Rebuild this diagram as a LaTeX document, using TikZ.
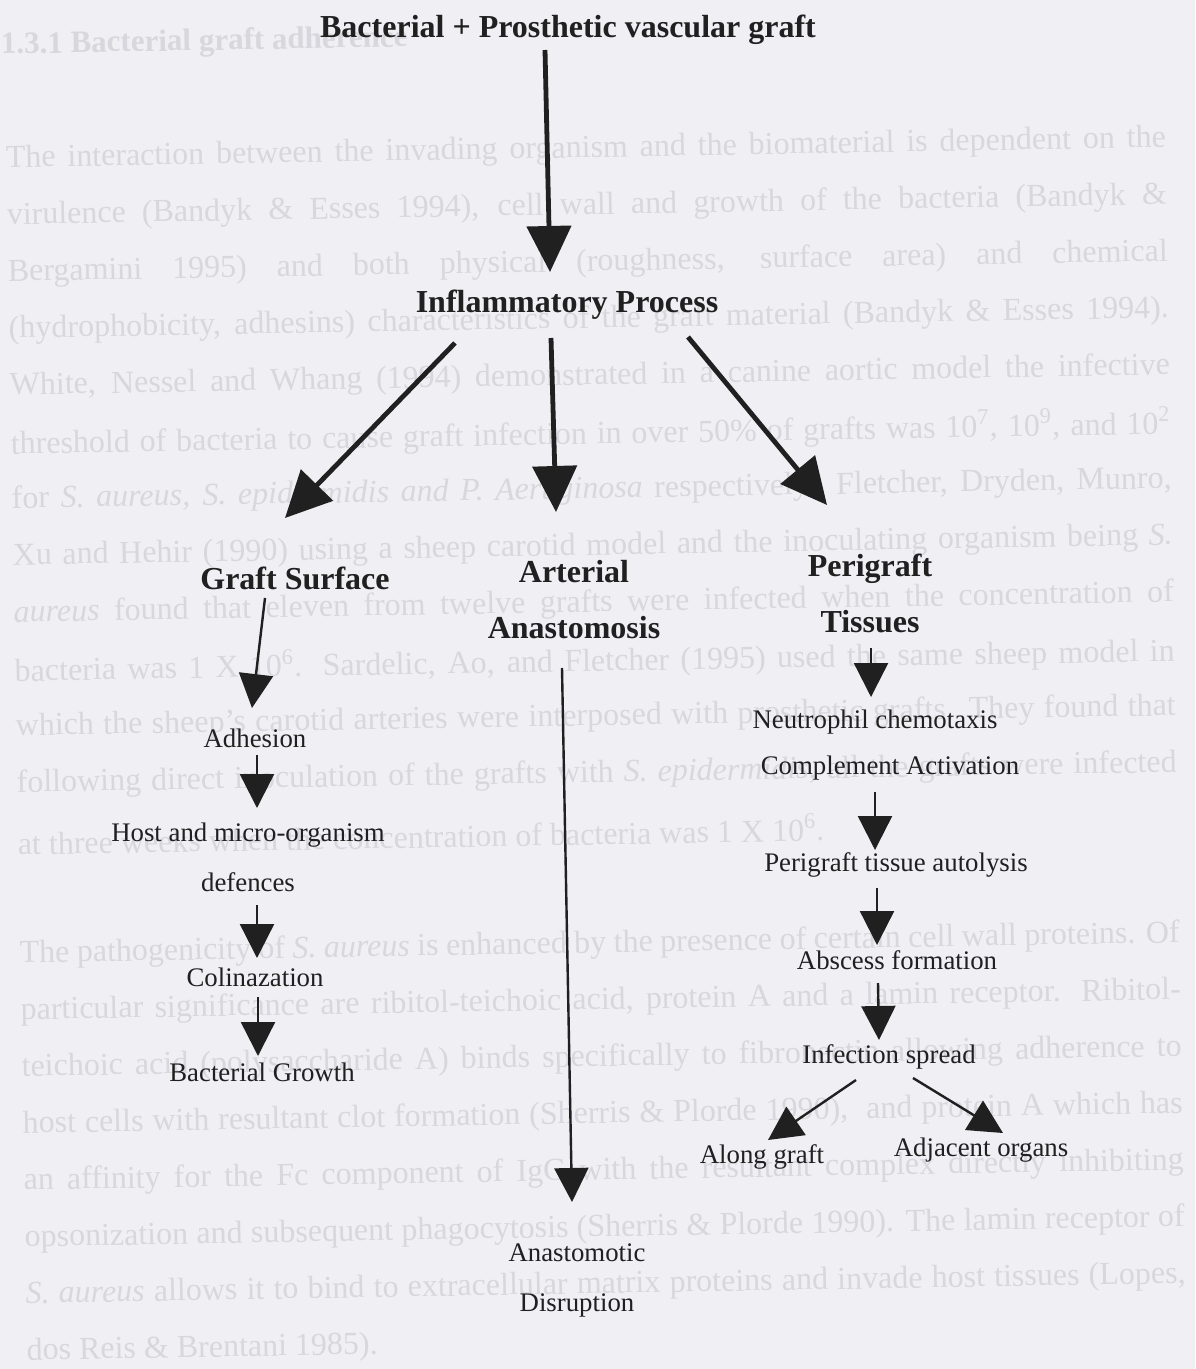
\documentclass[tikz,border=0pt]{standalone}
\usepackage{fontspec}
\setmainfont{Liberation Serif}
\usepackage{tikz}
\usetikzlibrary{arrows.meta, calc}
\definecolor{paper}{RGB}{239,239,244}
\definecolor{ghost}{RGB}{215,215,221}
\definecolor{ink}{RGB}{32,32,32}
\tikzstyle{bigarrow} = [line width=2.4pt, draw=ink, -{Triangle[length=23pt,width=22pt]}]
\tikzstyle{arrow} = [line width=1.2pt, draw=ink, -{Triangle[length=17pt,width=17pt]}]
\tikzstyle{title} = [font=\fontsize{16}{28}\selectfont\bfseries, text=ink, align=center, inner sep=0pt]
\tikzstyle{stage} = [font=\fontsize{13.4}{25}\selectfont, text=ink, align=center, inner sep=0pt]
\tikzstyle{ghostline} = [font=\fontsize{16}{19}\selectfont, text=ghost, anchor=west, inner sep=0pt]

\begin{document}
\begin{tikzpicture}[x=0.5pt,y=-0.5pt]
\fill [paper] (0,0) rectangle (1195,1369);

\begin{scope}[rotate around={1:(600,700)}, transform shape]
\node [ghostline, font=\fontsize{15.5}{18}\selectfont\bfseries] (bg0) at (12,36) {1.3.1 Bacterial graft adherence};
\node [ghostline] (bg2) at (15,149.6) {\makebox[580pt][s]{The interaction between the invading organism and the biomaterial is dependent on the}};
\node [ghostline] (bg3) at (15,206.4) {\makebox[580pt][s]{virulence (Bandyk \& Esses 1994), cell wall and growth of the bacteria (Bandyk \&}};
\node [ghostline] (bg4) at (15,263.2) {\makebox[580pt][s]{Bergamini 1995) and both physical (roughness, surface area) and chemical}};
\node [ghostline] (bg5) at (15,320) {\makebox[580pt][s]{(hydrophobicity, adhesins) characteristics of the graft material (Bandyk \& Esses 1994).}};
\node [ghostline] (bg6) at (15,376.8) {\makebox[580pt][s]{White, Nessel and Whang (1994) demonstrated in a canine aortic model the infective}};
\node [ghostline] (bg7) at (15,433.6) {\makebox[580pt][s]{threshold of bacteria to cause graft infection in over 50\% of grafts was 10\textsuperscript{7}, 10\textsuperscript{9}, and 10\textsuperscript{2}}};
\node [ghostline] (bg8) at (15,490.4) {\makebox[580pt][s]{for \textit{S. aureus, S. epidermidis and P. Aeruginosa} respectively. Fletcher, Dryden, Munro,}};
\node [ghostline] (bg9) at (15,547.2) {\makebox[580pt][s]{Xu and Hehir (1990) using a sheep carotid model and the inoculating organism being \textit{S.}}};
\node [ghostline] (bg10) at (15,604) {\makebox[580pt][s]{\textit{aureus} found that eleven from twelve grafts were infected when the concentration of}};
\node [ghostline] (bg11) at (15,660.8) {\makebox[580pt][s]{bacteria was 1 X 10\textsuperscript{6}. Sardelic, Ao, and Fletcher (1995) used the same sheep model in}};
\node [ghostline] (bg12) at (15,717.6) {\makebox[580pt][s]{which the sheep's carotid arteries were interposed with prosthetic grafts. They found that}};
\node [ghostline] (bg13) at (15,774.4) {\makebox[580pt][s]{following direct inoculation of the grafts with \textit{S. epidermidis}, all the grafts were infected}};
\node [ghostline] (bg14) at (15,831.2) {at three weeks when the concentration of bacteria was 1 X 10\textsuperscript{6}.};
\node [ghostline] (bg16) at (15,944.8) {\makebox[580pt][s]{The pathogenicity of \textit{S. aureus} is enhanced by the presence of certain cell wall proteins. Of}};
\node [ghostline] (bg17) at (15,1001.6) {\makebox[580pt][s]{particular significance are ribitol-teichoic acid, protein A and a lamin receptor. Ribitol-}};
\node [ghostline] (bg18) at (15,1058.4) {\makebox[580pt][s]{teichoic acid (polysaccharide A) binds specifically to fibronectin allowing adherence to}};
\node [ghostline] (bg19) at (15,1115.2) {\makebox[580pt][s]{host cells with resultant clot formation (Sherris \& Plorde 1990),~ and protein A which has}};
\node [ghostline] (bg20) at (15,1172) {\makebox[580pt][s]{an affinity for the Fc component of IgG with the resultant complex directly inhibiting}};
\node [ghostline] (bg21) at (15,1228.8) {\makebox[580pt][s]{opsonization and subsequent phagocytosis (Sherris \& Plorde 1990). The lamin receptor of}};
\node [ghostline] (bg22) at (15,1285.6) {\makebox[580pt][s]{\textit{S. aureus} allows it to bind to extracellular matrix proteins and invade host tissues (Lopes,}};
\node [ghostline] (bg23) at (15,1342.4) {dos Reis \& Brentani 1985).};
\end{scope}

\node [title] (graft) at (568,30) {Bacterial + Prosthetic vascular graft};
\node [title] (infl) at (567,305) {Inflammatory Process};
\node [title] (gsurf) at (295,578) {Graft Surface};
\node [title] (arter) at (574,600) {Arterial\\Anastomosis};
\node [title] (peri) at (870,593) {Perigraft\\Tissues};

\node [stage] (adh) at (255,738) {Adhesion};
\node [stage] (host) at (248,857) {Host and micro-organism\\defences};
\node [stage] (coli) at (255,977) {Colinazation};
\node [stage] (bgrow) at (262,1072) {Bacterial Growth};

\node [stage] (disr) at (577,1280) {Anastomotic\\Disruption};

\node [stage] (neut) at (875,722) {Neutrophil chemotaxis};
\node [stage] (comp) at (890,768) {Complement Activation};
\node [stage] (auto) at (896,865) {Perigraft tissue autolysis};
\node [stage] (absc) at (897,960) {Abscess formation};
\node [stage] (infs) at (889,1057) {Infection spread};
\node [stage] (along) at (762,1157) {Along graft};
\node [stage] (adj) at (981,1150) {Adjacent organs};

\draw [bigarrow] ($(graft)+(-23,20)$) to ($(infl)+(-17,-33)$);
\draw [bigarrow] ($(infl)+(-112,38)$) to ($(gsurf)+(-10,-60)$);
\draw [bigarrow] ($(infl)+(-16,33)$) to ($(arter)+(-18,-88)$);
\draw [bigarrow] ($(infl)+(121,32)$) to ($(peri)+(-43,-88)$);

\draw [arrow] ($(gsurf)+(-30,20)$) to ($(adh)+(-3,-30)$);
\draw [arrow] ($(adh)+(2,17)$) to ($(host)+(9,-49)$);
\draw [arrow] ($(host)+(9,48)$) to ($(coli)+(2,-19)$);
\draw [arrow] ($(coli)+(3,20)$) to ($(bgrow)+(-4,-16)$);

\draw [arrow] ($(arter)+(-12,68)$) to ($(disr)+(-5,-78)$);

\draw [arrow] ($(peri)+(1,55)$) to ($(neut)+(-4,-25)$);
\draw [arrow] ($(comp)+(-15,24)$) to ($(auto)+(-21,-15)$);
\draw [arrow] ($(auto)+(-19,23)$) to ($(absc)+(-20,-15)$);
\draw [arrow] ($(absc)+(-19,23)$) to ($(infs)+(-10,-17)$);
\draw [arrow] ($(infs)+(-33,23)$) to ($(along)+(6,-17)$);
\draw [arrow] ($(infs)+(24,21)$) to ($(adj)+(22,-17)$);

\end{tikzpicture}
\end{document}
